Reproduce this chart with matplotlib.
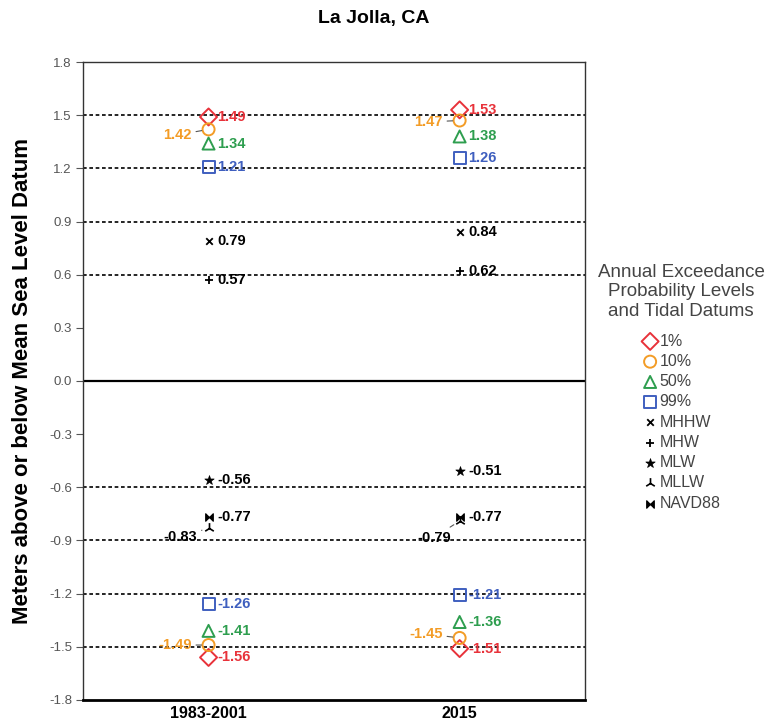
import matplotlib
matplotlib.use("Agg")
import matplotlib.pyplot as plt
from matplotlib.path import Path

# ---------------- data ----------------
periods = ['1983-2001', '2015']
p1_high = [1.49, 1.53]
p1_low = [-1.56, -1.51]
p10_high = [1.42, 1.47]
p10_low = [-1.49, -1.45]
p50_high = [1.34, 1.38]
p50_low = [-1.41, -1.36]
p99_high = [1.21, 1.26]
p99_low = [-1.26, -1.21]
mhhw = [0.79, 0.84]
mhw = [0.57, 0.62]
mlw = [-0.56, -0.51]
mllw = [-0.83, -0.79]
navd88 = [-0.77, -0.77]
yticks = [1.8, 1.5, 1.2, 0.9, 0.6, 0.3, 0.0, -0.3, -0.6, -0.9, -1.2, -1.5, -1.8]
ref_lines = [1.5, 1.2, 0.9, 0.6, -0.6, -0.9, -1.2, -1.5]

RED = '#e8323a'
ORANGE = '#f39c26'
GREEN = '#2e9e4f'
BLUE = '#3f5fbf'
LBL_FONT = ['Liberation Sans', 'DejaVu Sans']

plt.rcParams['font.family'] = ['Liberation Sans', 'DejaVu Sans']

fig = plt.figure(figsize=(7.73, 7.28), dpi=100)
ax = fig.add_axes([0.1074, 0.0385, 0.757 - 0.1074, 0.9148 - 0.0385])

x = [1, 2]
ax.set_xlim(0.5, 2.5)
ax.set_ylim(-1.8, 1.8)

for yv in ref_lines:
    ax.axhline(yv, color='black', lw=1.2, ls=(0, (2.2, 1.6)), zorder=1)
ax.axhline(0.0, color='black', lw=1.6, zorder=1)

bowtie = Path([(-1, 1), (-1, -1), (1, 1), (1, -1), (-1, 1)],
              [Path.MOVETO, Path.LINETO, Path.LINETO, Path.LINETO, Path.CLOSEPOLY])

def open_marker(vals, marker, color, size, label=None):
    ax.scatter(x, vals, marker=marker, s=size, facecolors='none',
               edgecolors=color, linewidths=1.4, zorder=3, label=label)

open_marker(p1_high, 'D', RED, 75, '1%')
open_marker(p10_high, 'o', ORANGE, 75, '10%')
open_marker(p50_high, '^', GREEN, 75, '50%')
open_marker(p99_high, 's', BLUE, 75, '99%')
open_marker(p1_low, 'D', RED, 75)
open_marker(p10_low, 'o', ORANGE, 75)
open_marker(p50_low, '^', GREEN, 75)
open_marker(p99_low, 's', BLUE, 75)

ax.scatter(x, mhhw, marker='x', s=22, color='black', linewidths=1.3, zorder=3, label='MHHW')
ax.scatter(x, mhw, marker='+', s=40, color='black', linewidths=1.3, zorder=3, label='MHW')
ax.scatter(x, mlw, marker='*', s=50, color='black', linewidths=0.5, zorder=3, label='MLW')
ax.scatter(x, mllw, marker='2', s=60, color='black', linewidths=1.2, zorder=3, label='MLLW')
ax.scatter(x, navd88, marker=bowtie, s=30, color='black', linewidths=0.8, zorder=3, label='NAVD88')

def right_label(vals, color, dy=0):
    for xi, v in zip(x, vals):
        ax.annotate(f'{v:.2f}', (xi, v), xytext=(6, dy), textcoords='offset points',
                    ha='left', va='center', color=color, fontsize=10.5,
                    fontweight='bold', family=LBL_FONT, zorder=4)

def left_label(vals, color, offsets):
    for xi, v, off in zip(x, vals, offsets):
        ax.annotate(f'{v:.2f}', (xi, v), xytext=off, textcoords='offset points',
                    ha='right', va='center', color=color, fontsize=10.5,
                    fontweight='bold', family=LBL_FONT, zorder=4,
                    arrowprops=dict(arrowstyle='-', color='#555555', lw=0.8,
                                    shrinkA=1, shrinkB=5))

right_label(p1_high, RED)
right_label(p50_high, GREEN)
right_label(p99_high, BLUE)
right_label(p1_low, RED)
right_label(p50_low, GREEN)
right_label(p99_low, BLUE)
right_label(mhhw, 'black')
right_label(mhw, 'black')
right_label(mlw, 'black')
right_label(navd88, 'black')
left_label(p10_high, ORANGE, [(-12, -4), (-12, -1)])
left_label(p10_low, ORANGE, [(-12, 0), (-12, 3)])
left_label(mllw, 'black', [(-8, -6.5), (-6.5, -12)])

ax.set_xticks(x)
ax.set_xticklabels(periods, fontsize=11.5, fontweight='bold', family=LBL_FONT)
ax.tick_params(axis='x', length=0, pad=4)
ax.set_yticks(yticks)
ax.set_yticklabels([f'{t:.1f}' for t in yticks], fontsize=9.5, color='#555555')
ax.tick_params(axis='y', direction='out', length=5, color='#555555', pad=3)

ax.set_ylabel('Meters above or below Mean Sea Level Datum', fontsize=16,
              fontweight='bold', family=LBL_FONT)
ax.yaxis.set_label_coords(-0.1, 0.5)

for s in ['top', 'right', 'left']:
    ax.spines[s].set_linewidth(1.0)
    ax.spines[s].set_color('#333333')
ax.spines['bottom'].set_linewidth(2.0)

fig.text(0.484, 0.975, 'La Jolla, CA', ha='center', va='center', fontsize=14,
         fontweight='bold')

leg = ax.legend(loc='upper center', bbox_to_anchor=(0.881, 0.649),
                bbox_transform=fig.transFigure, frameon=False,
                title='Annual Exceedance\nProbability Levels\nand Tidal Datums',
                fontsize=11.5, title_fontsize=13.5, handletextpad=0.05,
                handlelength=1.1, labelspacing=0.33, borderpad=0,
                markerscale=1.0)
leg.get_title().set_color('#444444')
leg.get_title().set_multialignment('center')
leg._legend_box.sep = 10
for t in leg.get_texts():
    t.set_color('#444444')

fig.savefig('out.png', dpi=100)
